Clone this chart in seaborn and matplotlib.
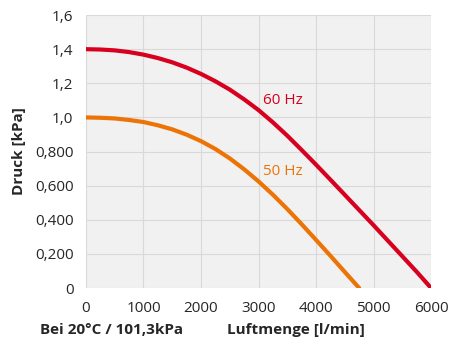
import pandas as pd
import seaborn as sns
import matplotlib.pyplot as plt

luftmenge = [0, 250, 500, 750, 1000, 1250, 1500, 1750, 2000, 2250, 2500, 2750, 3000,
             3250, 3500, 3750, 4000, 4250, 4500, 4750, 5000, 5250, 5500, 5750, 6000]
druck_60hz = [1.400, 1.398, 1.393, 1.383, 1.368, 1.348, 1.323, 1.292, 1.255, 1.212, 1.163,
              1.106, 1.043, 0.971, 0.893, 0.809, 0.723, 0.635, 0.546, 0.457, 0.368,
              0.277, 0.186, 0.095, 0.0]
druck_50hz = [1.000, 0.998, 0.994, 0.985, 0.973, 0.954, 0.930, 0.899, 0.861, 0.815, 0.760,
              0.696, 0.625, 0.547, 0.463, 0.374, 0.282, 0.189, 0.094, 0.0]

x_ticks = [0, 1000, 2000, 3000, 4000, 5000, 6000]
y_ticks = [0, 0.2, 0.4, 0.6, 0.8, 1.0, 1.2, 1.4, 1.6]
y_tick_labels = ["0", "0,200", "0,400", "0,600", "0,800", "1,0", "1,2", "1,4", "1,6"]

red = "#d7001e"
orange = "#ec7306"
text_col = "#262626"

df = pd.concat([
    pd.DataFrame({"Luftmenge": luftmenge, "Druck": druck_60hz, "Frequenz": "60 Hz"}),
    pd.DataFrame({"Luftmenge": luftmenge[:len(druck_50hz)], "Druck": druck_50hz, "Frequenz": "50 Hz"}),
], ignore_index=True)

sns.set_theme(style="darkgrid", rc={
    "axes.facecolor": "#f1f1f1",
    "grid.color": "#d9d9d9",
    "grid.linewidth": 0.8,
})
plt.rcParams["font.family"] = ["Open Sans", "DejaVu Sans"]

fig = plt.figure(figsize=(4.5, 3.5), dpi=100)
ax = fig.add_axes([0.191, 0.177, 0.767, 0.78])

sns.lineplot(data=df, x="Luftmenge", y="Druck", hue="Frequenz",
             palette={"60 Hz": red, "50 Hz": orange}, linewidth=3,
             legend=False, ax=ax)

ax.text(3070, 1.10, "60 Hz", color=red, fontsize=11, va="center", ha="left")
ax.text(3070, 0.686, "50 Hz", color=orange, fontsize=11, va="center", ha="left")

ax.set_xlim(0, 6000)
ax.set_ylim(0, 1.6)
ax.set_xticks(x_ticks)
ax.set_xticklabels([str(t) for t in x_ticks])
ax.set_yticks(y_ticks)
ax.set_yticklabels(y_tick_labels)
ax.tick_params(axis="both", labelsize=11, labelcolor=text_col, pad=3)
for s in ax.spines.values():
    s.set_visible(False)

ax.set_ylabel("Druck [kPa]", fontsize=11, fontweight="bold", color=text_col, labelpad=6)
ax.set_xlabel("")
fig.text(0.657, 0.057, "Luftmenge [l/min]", fontsize=11, fontweight="bold",
         color=text_col, ha="center", va="center")
fig.text(0.089, 0.057, "Bei 20°C / 101,3kPa", fontsize=11, fontweight="bold",
         color=text_col, ha="left", va="center")

fig.savefig("out.png", dpi=100)
